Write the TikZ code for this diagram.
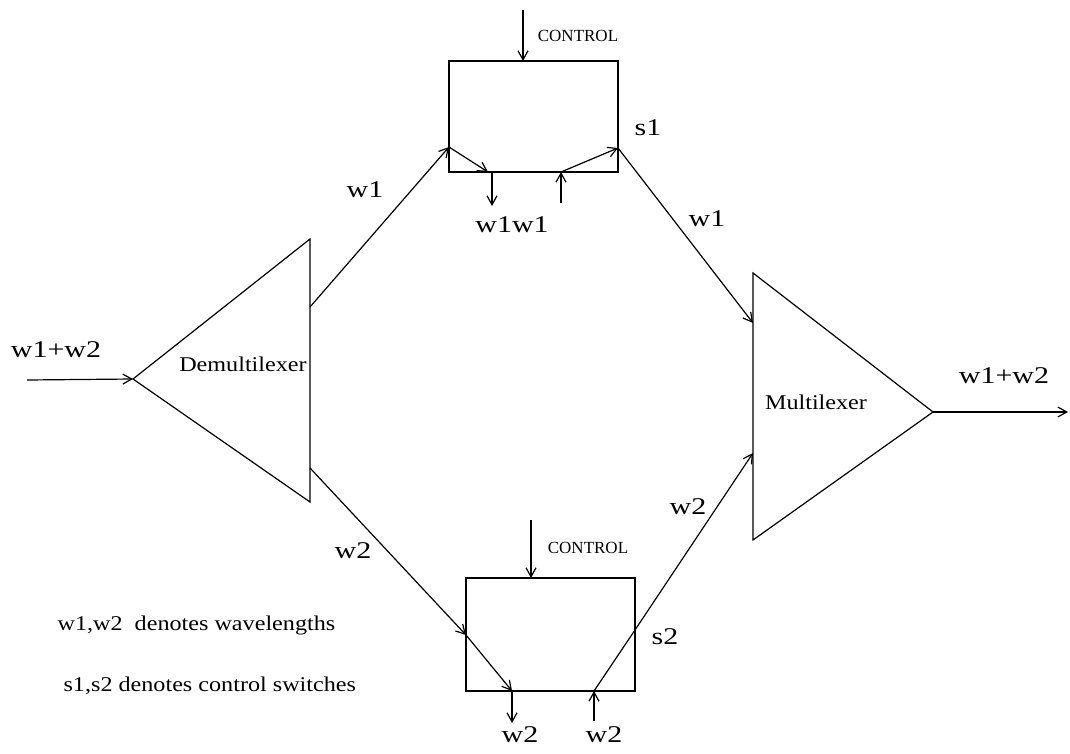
\documentclass[tikz,border=0pt]{standalone}
\usepackage{fontspec}
\setmainfont{Liberation Serif}
\newfontfamily\sigfont[FakeStretch=1.25]{Liberation Serif}
\newfontfamily\namefont[FakeStretch=1.15]{Liberation Serif}
\usetikzlibrary{arrows.meta, positioning}

\tikzset{
  sig/.style={font=\sigfont\fontsize{24}{26}\selectfont, inner sep=0pt},
  blockname/.style={font=\namefont\fontsize{21}{23}\selectfont, inner sep=0pt},
  note/.style={blockname, anchor=west},
  ctl/.style={font=\fontsize{17}{19}\selectfont, inner sep=0pt},
  swbox/.style={draw, minimum width=169pt, minimum height=111pt, inner sep=0pt},
}

\begin{document}
\begin{tikzpicture}[x=1pt,y=-1pt,line width=1.2pt,>={Straight Barb[length=9pt,width=10pt]}]
  \useasboundingbox (0,0) rectangle (1070,754);
  % demultiplexer
  \coordinate (dtip) at (133,379);
  \coordinate (dtop) at (310,239);
  \coordinate (dbot) at (310,502);
  \draw (dtip) -- (dtop) -- (dbot) -- cycle;
  \node[blockname] (dname) at (243,364) {Demultilexer};
  % multiplexer
  \coordinate (mtop) at (753,273);
  \coordinate (mbot) at (753,540);
  \coordinate (mtip) at (933,412);
  \draw (mtop) -- (mtip) -- (mbot) -- cycle;
  \node[blockname] (mname) at (816,402) {Multilexer};
  % switches
  \node[swbox] (s1) at (533.5,116.5) {};
  \node[swbox, minimum height=113pt] (s2) at (550.5,634.5) {};

  \coordinate (in) at (27,380);
  \coordinate (out) at (1068,412);
  \coordinate (d1) at (310,307);
  \coordinate (d2) at (310,468);
  \coordinate (m1) at (753,323);
  \coordinate (m2) at (753,453);
  % upper switch points
  \coordinate (c1) at (523,10);
  \coordinate (c1end) at (523,61);
  \coordinate (s1in) at (449,147);
  \coordinate (s1drop) at (488,172);
  \coordinate (s1d) at (492,172);
  \coordinate (s1dend) at (492,206);
  \coordinate (s1astart) at (561,203);
  \coordinate (s1a) at (561,172);
  \coordinate (s1out) at (618,148);
  % lower switch points
  \coordinate (c2) at (531,520);
  \coordinate (c2end) at (531,578);
  \coordinate (s2in) at (466,635);
  \coordinate (s2drop) at (512,691);
  \coordinate (s2dend) at (512,723);
  \coordinate (s2astart) at (594,721);
  \coordinate (s2a) at (594,691);
  \coordinate (s2out) at (635,630);

  \draw[->] (in) -- (dtip);
  \draw[->] (d1) -- (s1in);
  \draw[->] (s1in) -- (s1drop);
  \draw[->] (s1d) -- (s1dend);
  \draw[->] (s1astart) -- (s1a);
  \draw[->] (s1a) -- (s1out);
  \draw[->] (s1out) -- (m1);
  \draw[->] (c1) -- (c1end);
  \draw[->] (d2) -- (s2in);
  \draw[->] (s2in) -- (s2drop);
  \draw[->] (s2drop) -- (s2dend);
  \draw[->] (s2astart) -- (s2a);
  \draw (s2a) -- (s2out);
  \draw[->] (s2out) -- (m2);
  \draw[->] (c2) -- (c2end);
  \draw[->] (mtip) -- (out);

  % labels
  \node[sig] (inlbl) at (56,350) {w1+w2};
  \node[sig] (outlbl) at (1004,376) {w1+w2};
  \node[sig] (w1a) at (365,190) {w1};
  \node[sig] (w1b) at (707,219) {w1};
  \node[sig] (w1w1) at (512,225) {w1w1};
  \node[sig] (s1lbl) at (648,128) {s1};
  \node[sig] (w2a) at (353,551) {w2};
  \node[sig] (w2b) at (688,507) {w2};
  \node[sig] (s2lbl) at (665,637) {s2};
  \node[sig] (w2c) at (520,735) {w2};
  \node[sig] (w2d) at (604,735) {w2};
  \node[ctl] (ctl1) at (578,36) {CONTROL};
  \node[ctl] (ctl2) at (588,548) {CONTROL};
  \node[note] (note1) at (57,625) {w1,w2\ \ denotes wavelengths};
  \node[note] (note2) at (63,686) {s1,s2 denotes control switches};
\end{tikzpicture}
\end{document}
